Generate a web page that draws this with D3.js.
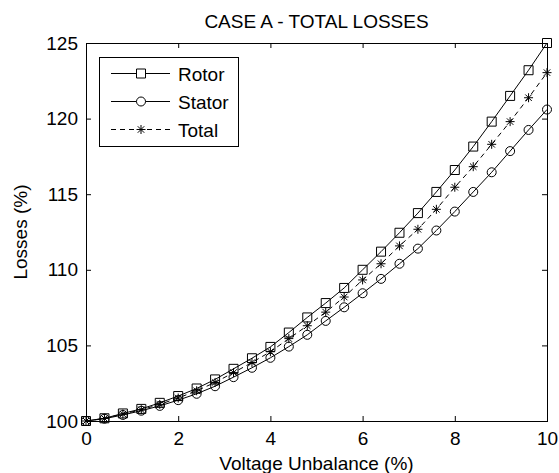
<!DOCTYPE html>
<html>
<head>
<meta charset="utf-8">
<script src="https://cdn.jsdelivr.net/npm/d3@7"></script>
<style>
  html, body { margin: 0; padding: 0; background: #fff; }
  svg { display: block; }
  text { font-family: "Liberation Sans", Arial, sans-serif; fill: #000; }
</style>
</head>
<body>
<svg id="chart" width="559" height="473"></svg>
<script>
const unbalance = [0, 0.4, 0.8, 1.2, 1.6, 2.0, 2.4, 2.8, 3.2, 3.6, 4.0, 4.4, 4.8, 5.2, 5.6, 6.0, 6.4, 6.8, 7.2, 7.6, 8.0, 8.4, 8.8, 9.2, 9.6, 10.0];
const rotor  = [100, 100.18, 100.5, 100.8, 101.2, 101.65, 102.15, 102.75, 103.45, 104.15, 104.9, 105.85, 106.85, 107.8, 108.8, 110.0, 111.2, 112.45, 113.75, 115.15, 116.6, 118.15, 119.8, 121.5, 123.2, 125.0];
const stator = [100, 100.15, 100.4, 100.68, 101.0, 101.38, 101.8, 102.3, 102.9, 103.52, 104.18, 104.92, 105.7, 106.62, 107.52, 108.45, 109.4, 110.4, 111.4, 112.6, 113.85, 115.15, 116.45, 117.85, 119.25, 120.6];
const total  = [100, 100.17, 100.46, 100.74, 101.1, 101.52, 102.0, 102.55, 103.2, 103.87, 104.58, 105.45, 106.3, 107.2, 108.2, 109.33, 110.4, 111.58, 112.68, 114.0, 115.46, 116.82, 118.3, 119.8, 121.38, 123.04];
const xTicks = [0, 2, 4, 6, 8, 10];
const yTicks = [100, 105, 110, 115, 120, 125];
const seriesNames = ["Rotor", "Stator", "Total"];
const titleText = "CASE A - TOTAL LOSSES";
const xLabel = "Voltage Unbalance (%)";
const yLabel = "Losses (%)";

const svg = d3.select("#chart");
const L = 86, R = 547, T = 43, B = 421;
const x = d3.scaleLinear().domain([0, 10]).range([L, R]);
const y = d3.scaleLinear().domain([100, 125]).range([B, T]);

// plot frame
svg.append("rect").attr("x", L).attr("y", T).attr("width", R - L).attr("height", B - T)
  .attr("fill", "#fff").attr("stroke", "none");

function styleAxis(g) {
  g.selectAll(".domain").remove();
  g.selectAll("line").attr("stroke", "#000").attr("stroke-width", 1);
  g.selectAll("text").attr("font-size", 19).attr("font-family", "'Liberation Sans', Arial, sans-serif").attr("fill", "#000");
}

const fmt = d3.format("d");
svg.append("g").attr("transform", `translate(0,${B})`)
  .call(d3.axisBottom(x).tickValues(xTicks).tickFormat(fmt).tickSizeInner(-5).tickSizeOuter(0).tickPadding(11))
  .call(styleAxis);
svg.append("g").attr("transform", `translate(0,${T})`)
  .call(d3.axisTop(x).tickValues(xTicks).tickFormat("").tickSizeInner(-5).tickSizeOuter(0))
  .call(styleAxis);
svg.append("g").attr("transform", `translate(${L},0)`)
  .call(d3.axisLeft(y).tickValues(yTicks).tickFormat(fmt).tickSizeInner(-5).tickSizeOuter(0).tickPadding(8))
  .call(styleAxis);
svg.append("g").attr("transform", `translate(${R},0)`)
  .call(d3.axisRight(y).tickValues(yTicks).tickFormat("").tickSizeInner(-5).tickSizeOuter(0))
  .call(styleAxis);

svg.append("rect").attr("x", L + 0.5).attr("y", T + 0.5).attr("width", R - L).attr("height", B - T)
  .attr("fill", "none").attr("stroke", "#000").attr("stroke-width", 1);

// marker paths
const sq = 4.5, cr = 4.5, ast = 4.5;
function markerPath(type) {
  if (type === "square") return `M${-sq},${-sq}H${sq}V${sq}H${-sq}Z`;
  if (type === "circle") return `M${cr},0A${cr},${cr} 0 1,1 ${-cr},0A${cr},${cr} 0 1,1 ${cr},0Z`;
  const d = ast * 0.72;
  return `M${-ast},0H${ast}M0,${-ast}V${ast}M${-d},${-d}L${d},${d}M${-d},${d}L${d},${-d}`;
}

const series = [
  { name: seriesNames[0], vals: rotor, marker: "square", dash: null },
  { name: seriesNames[1], vals: stator, marker: "circle", dash: null },
  { name: seriesNames[2], vals: total, marker: "asterisk", dash: "5,4" }
];

const line = d3.line().x(d => x(d[0])).y(d => y(d[1]));
series.forEach(s => {
  const pts = unbalance.map((u, i) => [u, s.vals[i]]);
  const g = svg.append("g");
  g.append("path").datum(pts).attr("d", line).attr("fill", "none")
    .attr("stroke", "#000").attr("stroke-width", 1)
    .attr("stroke-dasharray", s.dash);
  g.selectAll("path.m").data(pts).join("path").attr("class", "m")
    .attr("transform", d => `translate(${x(d[0])},${y(d[1])})`)
    .attr("d", markerPath(s.marker))
    .attr("fill", "none").attr("stroke", "#000").attr("stroke-width", 1);
});

// legend
const lg = svg.append("g");
lg.append("rect").attr("x", 99.5).attr("y", 57.5).attr("width", 139).attr("height", 89)
  .attr("fill", "#fff").attr("stroke", "#000").attr("stroke-width", 1);
const legendY = [73.5, 101.5, 129.5];
series.forEach((s, i) => {
  const ly = legendY[i];
  lg.append("line").attr("x1", 111).attr("x2", 170).attr("y1", ly).attr("y2", ly)
    .attr("stroke", "#000").attr("stroke-width", 1).attr("stroke-dasharray", s.dash);
  lg.append("path").attr("transform", `translate(141,${ly})`).attr("d", markerPath(s.marker))
    .attr("fill", s.marker === "asterisk" ? "none" : "#fff").attr("stroke", "#000").attr("stroke-width", 1);
  lg.append("text").attr("x", 178).attr("y", ly + 7).attr("font-size", 19).text(s.name);
});

// titles
svg.append("text").attr("x", (L + R) / 2).attr("y", 28).attr("text-anchor", "middle")
  .attr("font-size", 19).text(titleText);
svg.append("text").attr("x", (L + R) / 2).attr("y", 470).attr("text-anchor", "middle")
  .attr("font-size", 19).text(xLabel);
svg.append("text").attr("transform", `translate(27,${(T + B) / 2}) rotate(-90)`).attr("text-anchor", "middle")
  .attr("font-size", 19).text(yLabel);
</script>
</body>
</html>
